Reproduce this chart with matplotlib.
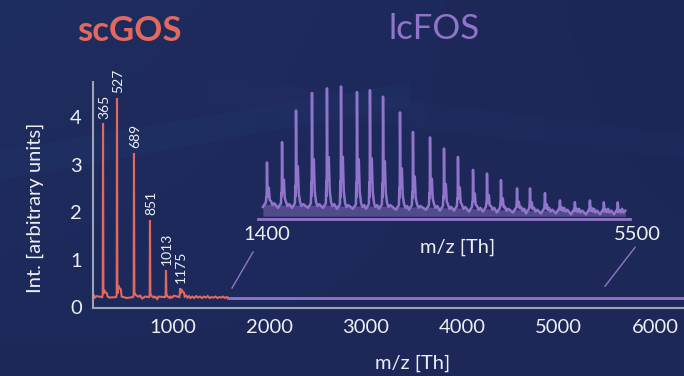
import numpy as np
import matplotlib
matplotlib.use("Agg")
import matplotlib.pyplot as plt
from matplotlib.colors import LinearSegmentedColormap

plt.rcParams['font.family'] = ['Lato', 'DejaVu Sans']

## Data
# scGOS spectrum (main axes), peak positions
gos_mz = [274, 419, 595, 761, 927, 1073]
gos_int = [3.87, 4.40, 3.24, 1.83, 0.78, 0.40]
gos_labels = ["365", "527", "689", "851", "1013", "1175"]
gos_shoulder = [0.36, 0.46, 0.28, 0.25, 0.24, 0.38]
# baseline wiggles between the peaks
gos_noise_mz = [175, 190, 205, 225, 340, 370, 520, 545, 640, 660, 680, 710, 820, 835, 850, 880,
                990, 1010, 1030, 1120, 1135, 1150, 1165, 1180, 1200, 1220, 1240, 1260, 1280,
                1300, 1320, 1340, 1360, 1380, 1400, 1420, 1440, 1460, 1480, 1500, 1520,
                1540, 1555, 1570]
gos_noise_int = [0.26, 0.20, 0.23, 0.19, 0.20, 0.23, 0.19, 0.22, 0.20, 0.24, 0.18, 0.22,
                 0.21, 0.17, 0.22, 0.19, 0.20, 0.24, 0.19, 0.21, 0.24, 0.20, 0.23, 0.19,
                 0.22, 0.19, 0.23, 0.20, 0.22, 0.19, 0.22, 0.20, 0.23, 0.19, 0.21, 0.20,
                 0.22, 0.19, 0.21, 0.20, 0.22, 0.19, 0.21, 0.20]
fos_baseline = 0.20

# lcFOS spectrum (inset)
fos_mz = [1499, 1665, 1819, 1995, 2160, 2315, 2491, 2634, 2778, 2965, 3108, 3296,
          3450, 3604, 3770, 3924, 4078, 4255, 4398, 4563, 4729, 4894, 5059, 5214, 5368]
fos_int = [0.61, 0.83, 1.17, 1.36, 1.41, 1.43, 1.37, 1.39, 1.32, 1.15, 0.94, 0.88,
           0.76, 0.67, 0.53, 0.49, 0.42, 0.33, 0.33, 0.28, 0.20, 0.18, 0.20, 0.16, 0.14]
fos_valley = [0.14, 0.13, 0.13, 0.13, 0.13, 0.12, 0.12, 0.12, 0.12, 0.11, 0.11, 0.11,
              0.10, 0.10, 0.09, 0.09, 0.08, 0.08, 0.07, 0.07, 0.07, 0.06, 0.06, 0.06, 0.06]

x_ticks = [1000, 2000, 3000, 4000, 5000, 6000]
y_ticks = [0, 1, 2, 3, 4]

RED = '#E2695F'
PURPLE = '#9175CB'
GRAY = '#9CA4B6'
WHITE = '#ECEEF4'

W, H = 684, 376

def px(x, y):
    return x / W, 1 - y / H

fig = plt.figure(figsize=(W / 100, H / 100), dpi=100)

# background
bg = fig.add_axes([0, 0, 1, 1], zorder=-5)
cmap = LinearSegmentedColormap.from_list('bg', ['#1C2757', '#1F2B5D', '#1E3266'])
yy, xx = np.mgrid[0:1:200j, 0:1:300j]
bg.imshow(0.5 * (1 - yy) * (1 - xx) + 0.3 * yy * 0.5, cmap=cmap,
          aspect='auto', extent=[0, 1, 0, 1], vmin=0, vmax=0.7)
for (x0, y0, x1, y1, c, a) in [(0.0, 0.60, 0.6, 0.78, '#23417A', 0.18),
                               (0.3, 0.80, 1.0, 0.64, '#2B2F6A', 0.2)]:
    bg.fill([x0, x1, x1, x0], [y0, y1, y1 - 0.06, y0 - 0.08], color=c, alpha=a, lw=0)
bg.set_xlim(0, 1)
bg.set_ylim(0, 1)
bg.axis('off')

## Main axes
ax = fig.add_axes([93 / W, 68 / H, (W - 93) / W, 226 / H])
ax.patch.set_alpha(0)

# red trace built from peak list + baseline points
gx, gy = [], []
for m, h, s in zip(gos_mz, gos_int, gos_shoulder):
    gx += [m - 9, m - 3, m, m + 4, m + 12, m + 20, m + 40, m + 48]
    gy += [0.21, 0.26, h, 0.28, s, s * 0.9, s * 0.8, 0.22]
for m, v in zip(gos_noise_mz, gos_noise_int):
    if min(abs(m - p) for p in gos_mz) > 50:
        gx.append(m)
        gy.append(v)
order = np.argsort(gx)
ax.plot(np.array(gx)[order], np.array(gy)[order], color=RED, lw=1.5, solid_joinstyle='miter')
ax.plot([gos_noise_mz[-1], 6300], [fos_baseline, fos_baseline], color=PURPLE, lw=2)

for m, h, lab in zip(gos_mz, gos_int, gos_labels):
    ax.text(m + 12, h + 0.1, lab, rotation=90, ha='center', va='bottom',
            fontsize=10, color=WHITE)

# callout lines to the inset
ax.plot([1612, 1830], [0.40, 1.16], color=PURPLE, lw=1)
ax.plot([5481, 5793], [0.44, 1.26], color=PURPLE, lw=1)

ax.set_xlim(170, 6300)
ax.set_ylim(-0.02, 4.74)
ax.set_xticks(x_ticks)
ax.set_yticks(y_ticks)
ax.tick_params(length=0, colors=WHITE, labelsize=14.5, pad=8)
for side in ['top', 'right']:
    ax.spines[side].set_visible(False)
for side in ['left', 'bottom']:
    ax.spines[side].set_color(GRAY)
    ax.spines[side].set_linewidth(1.5)

## Inset
ins = fig.add_axes([258 / W, (H - 219) / H, 372 / W, 139 / H])
ins.patch.set_alpha(0)
fx, fy = [], []
for m, h, v in zip(fos_mz, fos_int, fos_valley):
    d = h - v
    fx += [m - 45, m - 25, m - 12, m - 7, m - 3, m, m + 5, m + 12, m + 20, m + 30, m + 45, m + 60, m + 80]
    fy += [v - 0.01, v + 0.02, v + 0.04, v + 0.22 * d, v + 0.12, h, v + 0.32 * d, v + 0.22 * d,
           v + 0.42 * d, v + 0.14 * d, v + 0.05, v + 0.01, v + 0.03]
fx = np.array(fx)
fy = np.array(fy)
ins.fill_between(fx, 0.03, np.minimum(fy, np.interp(fx, fos_mz, fos_valley) + 0.02),
                 color=PURPLE, alpha=0.45, lw=0)
ins.plot(fx, fy, color=PURPLE, lw=1.8)
ins.set_xlim(1400, 5500)
ins.set_ylim(0, 1.5)
ins.set_xticks([])
ins.set_yticks([])
for side in ['top', 'right', 'left']:
    ins.spines[side].set_visible(False)
ins.spines['bottom'].set_color(PURPLE)
ins.spines['bottom'].set_linewidth(2)

## Text
fig.text(*px(129, 31), 'scGOS', color=RED, fontsize=25, fontweight='bold', ha='center', va='center')
fig.text(*px(434, 29), 'lcFOS', color=PURPLE, fontsize=25, ha='center', va='center')
fig.text(*px(35, 208), 'Int. [arbitrary units]', rotation=90, color=WHITE, fontsize=14.5,
         ha='center', va='center')
fig.text(*px(413, 363), 'm/z [Th]', color=WHITE, fontsize=14.5, ha='center', va='center')
fig.text(*px(458, 247), 'm/z [Th]', color=WHITE, fontsize=14.5, ha='center', va='center')
fig.text(*px(267, 235), '1400', color=WHITE, fontsize=14.5, ha='center', va='center')
fig.text(*px(637, 235), '5500', color=WHITE, fontsize=14.5, ha='center', va='center')

plt.savefig('out.png', dpi=100)
